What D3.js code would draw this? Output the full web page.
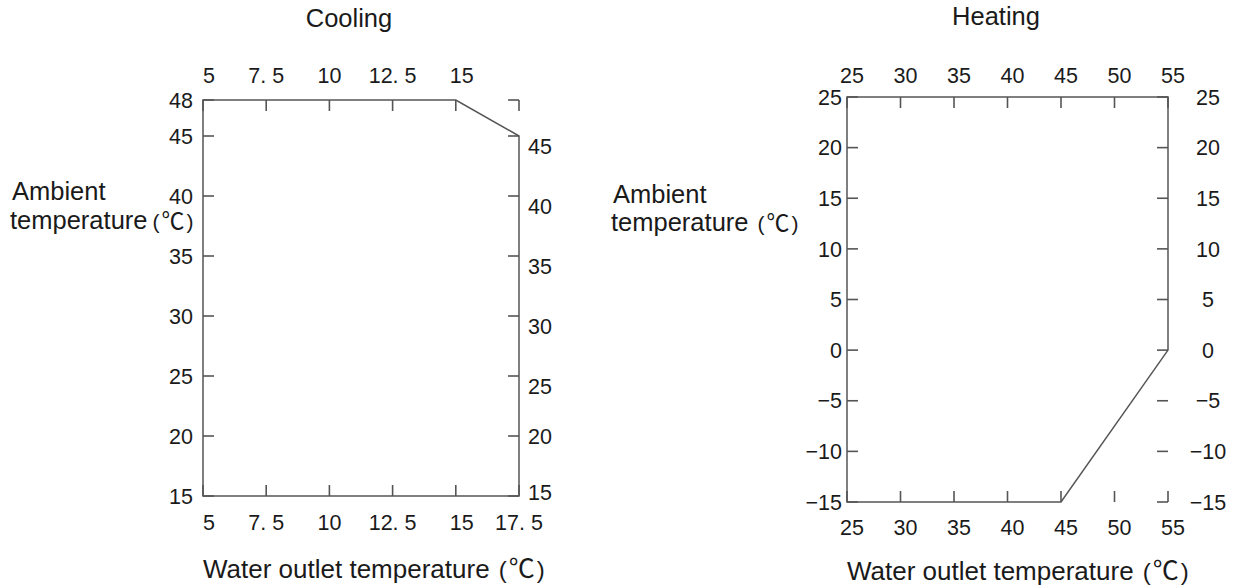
<!DOCTYPE html>
<html>
<head>
<meta charset="utf-8">
<script src="https://cdn.jsdelivr.net/npm/d3@7"></script>
<style>
  body { margin: 0; background: #fff; }
  text { font-family: "Liberation Sans", Arial, sans-serif; fill: #1a1a1a; }
  .cjk { font-family: "Noto Sans CJK JP", sans-serif; }
</style>
</head>
<body>
<svg id="chart" width="1233" height="587"></svg>
<script>
// cooling envelope
const coolingXTicks = [5, 7.5, 10, 12.5, 15, 17.5];
const coolingTopLabels = [5, 7.5, 10, 12.5, 15];
const coolingBottomLabels = [5, 7.5, 10, 12.5, 15, 17.5];
const coolingYTicks = [15, 20, 25, 30, 35, 40, 45, 48];
const coolingLeftLabels = [15, 20, 25, 30, 35, 40, 45, 48];
const coolingRightLabels = [15, 20, 25, 30, 35, 40, 45];
const coolingEnvelope = [[5, 15], [5, 48], [15, 48], [17.5, 45], [17.5, 15]];

// heating envelope
const heatingXTicks = [25, 30, 35, 40, 45, 50, 55];
const heatingTopLabels = [25, 30, 35, 40, 45, 50, 55];
const heatingBottomLabels = [25, 30, 35, 40, 45, 50, 55];
const heatingYTicks = [-15, -10, -5, 0, 5, 10, 15, 20, 25];
const heatingLeftLabels = [-15, -10, -5, 0, 5, 10, 15, 20, 25];
const heatingRightLabels = [-15, -10, -5, 0, 5, 10, 15, 20, 25];
const heatingEnvelope = [[25, -15], [25, 25], [55, 25], [55, 0], [45, -15]];

const svg = d3.select("#chart");
const lineColor = "#555";
const tickLen = 11;

function fmt(v) {
  // the source prints decimals as "7. 5" and uses a real minus sign
  return String(v).replace(".", ". ").replace("-", "\u2212");
}

// "(℃)" is set loosely in the source, with a big degree sign
function appendDegC(t, size, gap) {
  t.append("tspan").attr("dx", gap).style("font-size", (size - 1) + "px").text("(");
  t.append("tspan").attr("class", "cjk").attr("dx", 2).style("font-size", (size + 1) + "px").text("\u2103");
  t.append("tspan").attr("dx", 2).style("font-size", (size - 1) + "px").text(")");
}

function drawChart(c) {
  const x = d3.scaleLinear().domain(c.xDomain).range(c.xRange);
  const y = d3.scaleLinear().domain(c.yDomain).range(c.yRange);
  const g = svg.append("g");
  const x0 = x(c.xDomain[0]), x1 = x(c.xDomain[1]);
  const y0 = y(c.yDomain[0]), y1 = y(c.yDomain[1]);

  const marks = g.append("g")
    .attr("stroke", lineColor)
    .attr("stroke-width", 1.6)
    .attr("fill", "none");

  // ticks on all four sides, drawn whether or not the envelope reaches them
  c.xTicks.forEach(function (d) {
    marks.append("line").attr("x1", x(d)).attr("x2", x(d)).attr("y1", y1).attr("y2", y1 + tickLen);
    marks.append("line").attr("x1", x(d)).attr("x2", x(d)).attr("y1", y0).attr("y2", y0 - tickLen);
  });
  c.yTicks.forEach(function (d) {
    marks.append("line").attr("x1", x0).attr("x2", x0 + tickLen).attr("y1", y(d)).attr("y2", y(d));
    marks.append("line").attr("x1", x1).attr("x2", x1 - tickLen).attr("y1", y(d)).attr("y2", y(d));
  });

  const path = d3.line().x(d => x(d[0])).y(d => y(d[1]));
  marks.append("path")
    .attr("d", path(c.envelope) + "Z")
    .attr("stroke-width", 1.5)
    .attr("stroke-linejoin", "miter");

  const fs = 21.5;
  g.selectAll(".top").data(c.topLabels).enter().append("text")
    .attr("x", d => x(d) + c.labelShift(d))
    .attr("y", c.topY)
    .attr("text-anchor", "middle")
    .style("font-size", fs + "px")
    .text(fmt);
  g.selectAll(".bot").data(c.bottomLabels).enter().append("text")
    .attr("x", d => x(d) + c.labelShift(d))
    .attr("y", c.bottomY)
    .attr("text-anchor", "middle")
    .style("font-size", fs + "px")
    .text(fmt);
  g.selectAll(".left").data(c.leftLabels).enter().append("text")
    .attr("x", x0 - c.leftGap)
    .attr("y", d => y(d))
    .attr("dy", "0.36em")
    .attr("text-anchor", "end")
    .style("font-size", fs + "px")
    .text(fmt);
  g.selectAll(".right").data(c.rightLabels).enter().append("text")
    .attr("x", x1 + c.rightGap)
    .attr("y", d => y(d) + c.rightDrop(d))
    .attr("dy", "0.36em")
    .attr("text-anchor", c.rightAnchor)
    .style("font-size", fs + "px")
    .text(fmt);

  g.append("text")
    .attr("x", c.titleX).attr("y", c.titleY)
    .attr("text-anchor", "middle")
    .style("font-size", "25.5px")
    .text(c.title);

  g.append("text")
    .attr("x", c.yTitleX).attr("y", c.yTitleY)
    .style("font-size", "25.5px")
    .text("Ambient");
  const t2 = g.append("text")
    .attr("x", c.yTitleX - 2).attr("y", c.yTitleY + c.yTitleGap)
    .style("font-size", "25.5px")
    .text(c.yTitle2);
  appendDegC(t2, 22, c.yDegGap);

  const t3 = g.append("text")
    .attr("x", x0).attr("y", c.xTitleY)
    .style("font-size", "26px")
    .text("Water outlet temperature ");
  appendDegC(t3, 25, 2);
}

drawChart({
  xDomain: [5, 17.5], xRange: [203, 519],
  yDomain: [15, 48], yRange: [496, 100],
  xTicks: coolingXTicks, yTicks: coolingYTicks,
  topLabels: coolingTopLabels, bottomLabels: coolingBottomLabels,
  leftLabels: coolingLeftLabels, rightLabels: coolingRightLabels,
  envelope: coolingEnvelope,
  labelShift: d => (d === 5 || d === 15) ? 6 : 0,
  topY: 83, bottomY: 530,
  leftGap: 10, rightGap: 9, rightAnchor: "start",
  rightDrop: d => d === 15 ? -4 : (d === 20 ? 0 : 10),
  title: "Cooling", titleX: 349, titleY: 27,
  yTitleX: 12, yTitleY: 200, yTitleGap: 29, yTitle2: "temperature", yDegGap: 5,
  xTitleY: 578
});

drawChart({
  xDomain: [25, 55], xRange: [847, 1168],
  yDomain: [-15, 25], yRange: [502, 97],
  xTicks: heatingXTicks, yTicks: heatingYTicks,
  topLabels: heatingTopLabels, bottomLabels: heatingBottomLabels,
  leftLabels: heatingLeftLabels, rightLabels: heatingRightLabels,
  envelope: heatingEnvelope,
  labelShift: d => 5,
  topY: 83, bottomY: 535,
  leftGap: 5, rightGap: 40, rightAnchor: "middle",
  rightDrop: d => 0,
  title: "Heating", titleX: 996, titleY: 25,
  yTitleX: 613, yTitleY: 203, yTitleGap: 28, yTitle2: "temperature ", yDegGap: 2,
  xTitleY: 580
});
</script>
</body>
</html>
